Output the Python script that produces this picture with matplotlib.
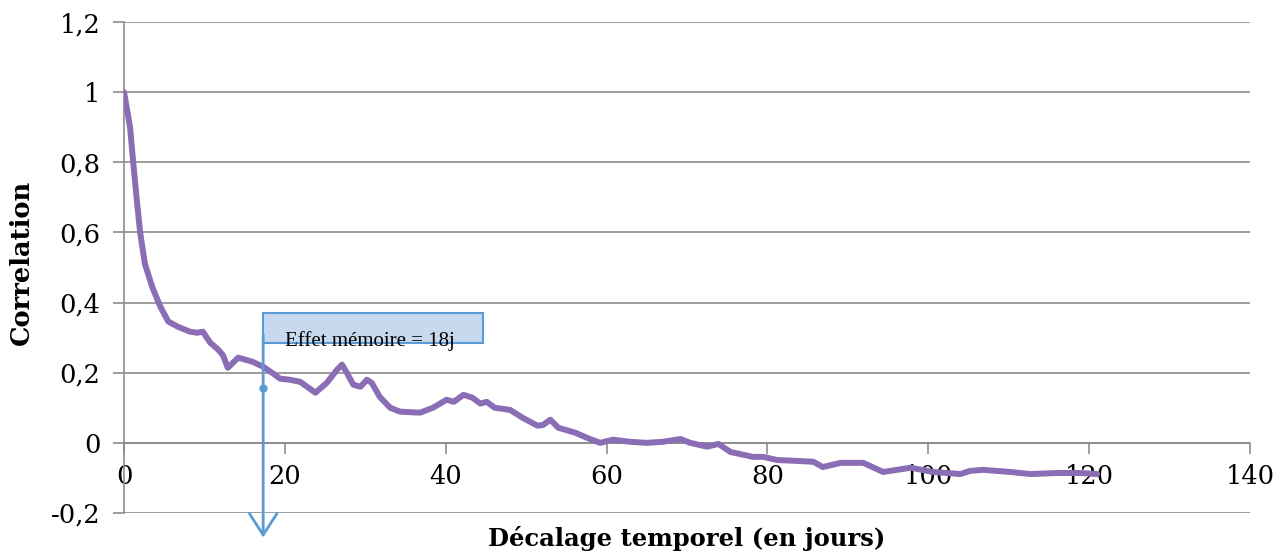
import matplotlib.pyplot as plt
from matplotlib.patches import Rectangle, ArrowStyle

# autocorrelation vs time lag (days)
lag = [0, 0.75, 1.1, 1.6, 2, 2.6, 3.5, 4.5, 5.5, 6.7, 8.2, 9.1, 9.8, 10.7, 11.7, 12.3,
       12.9, 14.2, 16, 17.3, 18.4, 19.4, 20.6, 21.9, 23.8, 25.2, 26.5, 27.1, 27.7,
       28.5, 29.4, 30.2, 30.8, 31.8, 33.1, 34.3, 36.8, 38.4, 40.1, 41, 42.2, 43.3,
       44.3, 45.1, 46.1, 48, 49.6, 51.4, 52.1, 53, 54, 56.1, 57.6, 59.2, 60.8, 62.9,
       65, 67, 69.2, 70.4, 72.5, 73.9, 75.4, 78.2, 79.5, 81.2, 83.2, 85.7, 86.9,
       89.1, 91.9, 94.4, 97.8, 100.6, 104, 105.2, 106.8, 110.2, 112.7, 116, 118.9, 121]
corr = [1.0, 0.9, 0.81, 0.69, 0.6, 0.51, 0.445, 0.389, 0.346, 0.331, 0.317, 0.314, 0.317,
        0.286, 0.266, 0.25, 0.214, 0.243, 0.231, 0.217, 0.2, 0.183, 0.18, 0.174, 0.143,
        0.171, 0.209, 0.223, 0.2, 0.166, 0.16, 0.18, 0.171, 0.131, 0.1, 0.089, 0.086,
        0.1, 0.123, 0.117, 0.137, 0.129, 0.112, 0.117, 0.1, 0.094, 0.071, 0.049, 0.051,
        0.066, 0.043, 0.029, 0.014, 0.0, 0.009, 0.003, 0.0, 0.003, 0.011, 0.0, -0.011,
        -0.003, -0.026, -0.04, -0.04, -0.049, -0.051, -0.054, -0.069, -0.057, -0.057,
        -0.083, -0.071, -0.083, -0.089, -0.08, -0.077, -0.083, -0.089, -0.086, -0.086,
        -0.089]

xticks = [0, 20, 40, 60, 80, 100, 120, 140]
yticks = [-0.2, 0, 0.2, 0.4, 0.6, 0.8, 1, 1.2]
ytick_labels = ['-0,2', '0', '0,2', '0,4', '0,6', '0,8', '1', '1,2']

memory_text = 'Effet mémoire = 18j'
arrow_x = 17.3

grid_col = '#8c8c8c'
blue = '#5b9bd5'

plt.rcParams['font.family'] = 'DejaVu Serif'

fig = plt.figure(figsize=(12.88, 5.52), dpi=100)
ax = fig.add_axes([0.0963, 0.0707, 0.8742, 0.8893])

ax.plot(lag, corr, color='#8a6db5', lw=4.3, solid_joinstyle='round',
        solid_capstyle='round', zorder=3)

ax.set_xlim(0, 140)
ax.set_ylim(-0.2, 1.2)
ax.set_xticks(xticks)
ax.set_yticks(yticks)
ax.set_yticklabels(ytick_labels)
ax.grid(axis='y', color=grid_col, lw=1.2)
ax.set_axisbelow(True)

for s in ['top', 'right']:
    ax.spines[s].set_visible(False)
ax.spines['bottom'].set_position(('data', 0))
ax.spines['bottom'].set_color(grid_col)
ax.spines['bottom'].set_linewidth(1.2)
ax.spines['left'].set_color(grid_col)
ax.spines['left'].set_linewidth(1.2)

ax.tick_params(axis='both', colors=grid_col, labelcolor='black', labelsize=18.5,
               width=1.2, length=8)
ax.tick_params(axis='x', pad=7)
ax.tick_params(axis='y', pad=9)

ax.set_xlabel('Décalage temporel (en jours)', fontsize=17.5, fontweight='bold')
ax.xaxis.set_label_coords(0.5, -0.026)
ax.set_ylabel('Correlation', fontsize=18.5, fontweight='bold')
ax.yaxis.set_label_coords(-0.08, 0.511)

# annotation box with clipped text
box = Rectangle((arrow_x, 0.286), 27.35, 0.085, facecolor='#c6d9ee',
                edgecolor=blue, lw=1.5, zorder=4)
ax.add_patch(box)
t = ax.text(arrow_x + 2.7, 0.275, memory_text, fontsize=15, va='baseline',
            ha='left', family='Liberation Serif', zorder=5)
t.set_clip_path(box)

# arrow down to the lag axis
ax.annotate('', xy=(arrow_x, -0.27), xytext=(arrow_x, 0.309),
            arrowprops=dict(arrowstyle=ArrowStyle('->', head_length=0.7, head_width=0.45),
                            color=blue, lw=2, mutation_scale=22,
                            shrinkA=0, shrinkB=0),
            annotation_clip=False, zorder=6)
ax.plot([arrow_x], [0.157], 'o', color=blue, ms=5, zorder=6)

fig.savefig('out.png', dpi=100)
